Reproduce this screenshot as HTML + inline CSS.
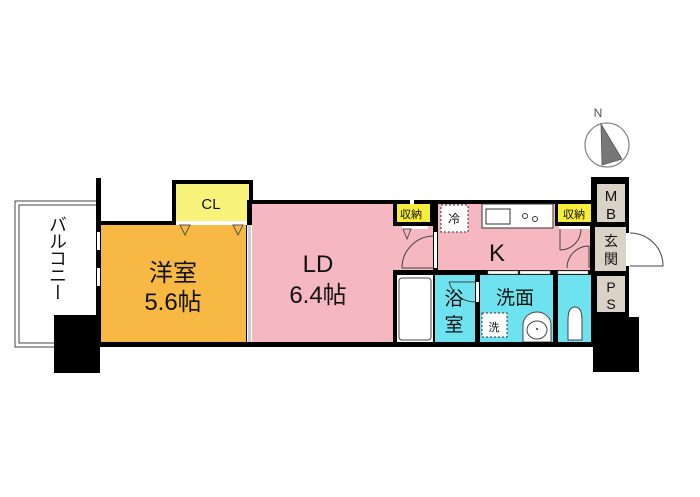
<!DOCTYPE html>
<html><head><meta charset="utf-8"><style>
html,body{margin:0;padding:0;background:#fff;}
svg{display:block;}
text{font-family:"Liberation Sans","Noto Sans CJK JP",sans-serif;}
#bal{position:absolute;left:47px;top:215px;writing-mode:vertical-rl;font-family:"Noto Sans CJK JP",sans-serif;font-size:18px;line-height:22px;letter-spacing:-1px;color:#111;}
</style></head><body>
<div id="bal">バルコニー</div>
<svg width="700" height="497" viewBox="0 0 700 497" xmlns="http://www.w3.org/2000/svg">
<rect width="700" height="497" fill="#fff"/>
<!-- compass -->
<text x="598" y="117" font-size="12" fill="#555" text-anchor="middle">N</text>
<circle cx="607" cy="145" r="22" fill="#fff" stroke="#888" stroke-width="1.2"/>
<polygon points="601,124 622,159 602,165" fill="#777" stroke="#555" stroke-width="0.8"/>
<!-- balcony -->
<rect x="15" y="201" width="84" height="146" fill="#fff" stroke="#444" stroke-width="1"/>
<rect x="19" y="205" width="78" height="138" fill="#fff" stroke="#444" stroke-width="1"/>
<!-- rooms fills -->
<rect x="99" y="221" width="152" height="124" fill="#000"/>
<rect x="101" y="225" width="145" height="117" fill="#f7b944"/>
<rect x="172" y="180" width="81" height="45" fill="#000"/>
<rect x="176" y="184" width="73" height="37" fill="#f6f27a"/>
<rect x="176" y="221" width="73" height="4" fill="#fff"/>
<text x="211" y="209" font-size="15" fill="#111" text-anchor="middle">CL</text>
<polygon points="180,225 190,225 185,235" fill="none" stroke="#555"/>
<polygon points="233,225 243,225 238,235" fill="none" stroke="#555"/>
<!-- LD + K black outline -->
<rect x="247" y="200" width="348" height="147" fill="#000"/>
<rect x="252" y="204" width="141" height="138" fill="#f6b8c0"/>
<rect x="393" y="204" width="197" height="66" fill="#f6b8c0"/>
<rect x="247" y="225" width="5" height="117" fill="#fff"/>
<rect x="248" y="225" width="3" height="117" fill="#ccc"/>
<!-- vertical LD/K wall with door -->
<rect x="433" y="204" width="5" height="66" fill="#000"/>
<rect x="434" y="232" width="3" height="36" fill="#fff"/>
<path d="M402 268 A32 32 0 0 1 434 236" fill="none" stroke="#444"/>
<line x1="402" y1="268" x2="434" y2="268" stroke="#444"/>
<!-- left 収納 -->
<rect x="393" y="200" width="40" height="26" fill="#000"/>
<rect x="397" y="204" width="33" height="18" fill="#f6ec3a"/>
<rect x="410" y="200" width="4" height="4" fill="#fff"/>
<text x="411" y="218" font-size="11" fill="#111" text-anchor="middle">収納</text>
<rect x="402" y="226" width="26" height="3" fill="#fff"/>
<polygon points="403,229 411,229 407,239" fill="none" stroke="#555"/>
<!-- fridge -->
<rect x="441" y="205" width="27" height="27" fill="#fff" stroke="#333" stroke-dasharray="2,2"/>
<text x="454" y="223" font-size="12" fill="#111" text-anchor="middle">冷</text>
<!-- sink counter -->
<rect x="482" y="204" width="71" height="24" fill="#fff" stroke="#333"/>
<rect x="486" y="209" width="24" height="15" fill="#fff" stroke="#333"/>
<circle cx="525" cy="216" r="2.5" fill="none" stroke="#333"/>
<circle cx="535" cy="219" r="2.5" fill="none" stroke="#333"/>
<!-- right 収納 -->
<rect x="555" y="200" width="40" height="26" fill="#000"/>
<rect x="558" y="204" width="33" height="18" fill="#f6ec3a"/>
<text x="574" y="218" font-size="11" fill="#111" text-anchor="middle">収納</text>
<rect x="559" y="226" width="31" height="3" fill="#fff"/>
<path d="M560 250 A21 21 0 0 0 581 229" fill="none" stroke="#444"/>
<line x1="560" y1="229" x2="560" y2="250" stroke="#444"/>
<path d="M567 268 A22 22 0 0 1 589 246" fill="none" stroke="#444"/>
<line x1="589" y1="246" x2="589" y2="268" stroke="#444"/>
<text x="497" y="261" font-size="24" fill="#111" text-anchor="middle">K</text>
<!-- bath row -->
<rect x="393" y="270" width="202" height="5" fill="#000"/>
<rect x="488" y="271" width="30" height="3" fill="#fff" stroke="#888" stroke-width="0.5"/>
<rect x="520" y="271" width="30" height="3" fill="#fff" stroke="#888" stroke-width="0.5"/>
<rect x="558" y="271" width="30" height="3" fill="#fff" stroke="#888" stroke-width="0.5"/>
<rect x="397" y="275" width="36" height="67" fill="#fff"/>
<rect x="399" y="278" width="32" height="62" rx="3" fill="#fff" stroke="#444"/>
<rect x="433" y="275" width="2" height="67" fill="#000"/>
<rect x="435" y="275" width="40" height="67" fill="#6fe2ef"/>
<rect x="475" y="275" width="5" height="67" fill="#000"/>
<rect x="476" y="282" width="3" height="20" fill="#fff"/>
<path d="M449 282 A27 27 0 0 0 476 302 M449 282 L476 282" fill="none" stroke="#444"/>
<text x="454" y="305" font-size="19" fill="#111" text-anchor="middle">浴</text>
<text x="454" y="331" font-size="19" fill="#111" text-anchor="middle">室</text>
<rect x="480" y="275" width="73" height="67" fill="#6fe2ef"/>
<text x="515" y="304" font-size="19" fill="#111" text-anchor="middle">洗面</text>
<rect x="482" y="313" width="25" height="24" fill="#fff" stroke="#333" stroke-dasharray="2,2"/>
<text x="494" y="331" font-size="11" fill="#111" text-anchor="middle">洗</text>
<path d="M523 342 L523 325 A14 13 0 0 1 551 325 L551 342 Z" fill="#fff" stroke="#444"/>
<ellipse cx="537" cy="330" rx="10" ry="9" fill="#fff" stroke="#444"/>
<circle cx="537" cy="329" r="1" fill="#333"/>
<rect x="553" y="275" width="5" height="67" fill="#000"/>
<rect x="558" y="275" width="33" height="67" fill="#6fe2ef"/>
<path d="M568 340 L568 320 Q568 307 575 307 Q582 307 582 320 L582 340 Z" fill="#fff" stroke="#444"/>
<!-- right column MB / 玄関 / PS -->
<rect x="591" y="177" width="38" height="145" fill="#000"/>
<rect x="597" y="184" width="28" height="38" fill="#d8d3c6"/>
<text x="611" y="201" font-size="15" fill="#111" text-anchor="middle">M</text>
<text x="611" y="219" font-size="15" fill="#111" text-anchor="middle">B</text>
<rect x="595" y="227" width="31" height="44" fill="#d8d3c6"/>
<text x="611" y="246" font-size="14" fill="#111" text-anchor="middle">玄</text>
<text x="611" y="264" font-size="14" fill="#111" text-anchor="middle">関</text>
<rect x="626" y="233" width="4" height="33" fill="#fff"/>
<path d="M630 233 A33 33 0 0 1 663 266 L630 266" fill="none" stroke="#444"/>
<rect x="597" y="276" width="28" height="36" fill="#d8d3c6"/>
<text x="611" y="292" font-size="14" fill="#111" text-anchor="middle">P</text>
<text x="611" y="309" font-size="14" fill="#111" text-anchor="middle">S</text>
<!-- outer walls & pillars -->
<rect x="96" y="178" width="5" height="169" fill="#000"/>
<rect x="97" y="232" width="3" height="18" fill="#fff"/>
<rect x="97" y="268" width="3" height="18" fill="#fff"/>
<rect x="99" y="342" width="496" height="5" fill="#000"/>
<rect x="54" y="315" width="46" height="58" fill="#000"/>
<rect x="593" y="317" width="46" height="55" fill="#000"/>
<!-- labels -->
<text x="173" y="281" font-size="24" fill="#111" text-anchor="middle">洋室</text>
<text x="173" y="310" font-size="24" fill="#111" text-anchor="middle">5.6帖</text>
<text x="318" y="272" font-size="24" fill="#111" text-anchor="middle">LD</text>
<text x="318" y="303" font-size="24" fill="#111" text-anchor="middle">6.4帖</text>
</svg>
</body></html>
